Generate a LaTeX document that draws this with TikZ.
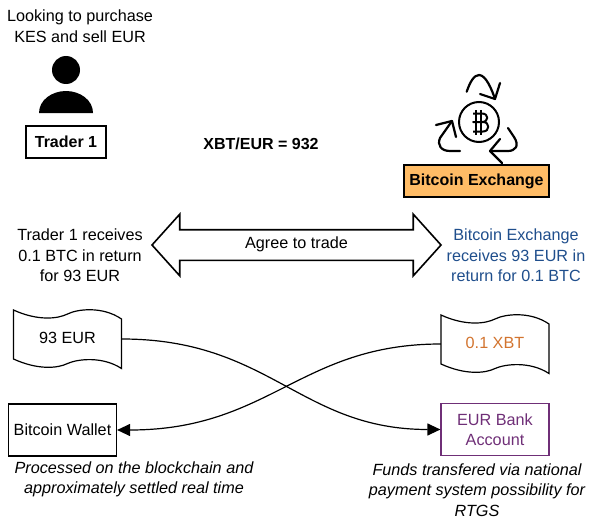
\documentclass[tikz,border=0pt]{standalone}
\usepackage{fontspec}
\setmainfont{Liberation Sans}
\usepackage{xcolor}
\usetikzlibrary{arrows.meta, shapes.arrows}
\definecolor{exchangeblue}{HTML}{1F4E8C}
\definecolor{xbtorange}{HTML}{D2742F}
\definecolor{bankpurple}{HTML}{6F2F77}
\definecolor{exchangefill}{HTML}{FFBC66}
\tikzset{%
	every label text/.style={
		font=\fontsize{16.2}{20.5}\selectfont,
		align=center,
		inner sep=0pt
	},
	remark/.style={
		every label text,
		font=\fontsize{16.2}{20.5}\selectfont\itshape
	},
	title box/.style={
		draw,
		line width=1.6pt,
		font=\fontsize{16}{20.5}\selectfont\bfseries,
		align=center,
		inner sep=0pt
	},
	plain box/.style={
		draw,
		line width=1.2pt,
		font=\fontsize{16.2}{20.5}\selectfont,
		align=center,
		inner sep=0pt,
		minimum width=108pt,
		minimum height=52pt
	},
	note/.style={
		font=\fontsize{16.2}{20.5}\selectfont,
		inner sep=0pt,
		minimum width=108pt,
		minimum height=49pt
	},
	flow/.style={
		line width=1.2pt,
		-{Triangle[length=13pt,width=12pt]}
	},
	recycle/.style={
		line width=2.2pt,
		line cap=round,
		line join=round
	},
}
\newcommand{\notewave}[1]{%
	\draw[line width=1.2pt, shift={(#1.center)}]
		(-54,-29) .. controls (-30,-18) and (-10,-20) .. (0,-25)
		.. controls (10,-30) and (35,-33) .. (54,-20) -- (54,29.5)
		.. controls (35,17) and (10,20) .. (0,24.5)
		.. controls (-10,29.5) and (-30,31) .. (-54,20) -- cycle;
}

\begin{document}
\begin{tikzpicture}[x=1pt, y=-1pt]
	\useasboundingbox (0,0) rectangle (589,519);

	\node[every label text] (lookingtext) at (80,26) {Looking to purchase\\KES and sell EUR};
	\fill (66,70) circle (14);
	\fill (39,113) .. controls (39,100) and (52,91) .. (66,91)
		.. controls (80,91) and (93,100) .. (93,113) -- cycle;
	\node[title box, minimum width=80pt, minimum height=32pt] (trader) at (66,142) {Trader 1};

	\node[every label text, font=\fontsize{16}{20.5}\selectfont\bfseries] (ratetext) at (261,144) {XBT/EUR = 932};

	\draw[line width=2pt] (479,122) circle (20);
	\draw[line width=2pt] (475.5,110) -- (475.5,135);
	\draw[line width=2pt] (480.5,110) -- (480.5,135);
	\draw[line width=2pt, line join=round] (473,113.5) -- (482,113.5)
		.. controls (489,113.5) and (489,122) .. (482,122) -- (473,122) -- (483,122)
		.. controls (490,122) and (490,131.5) .. (483,131.5) -- (473,131.5);
	\draw[recycle] (466.7,91.7) .. controls (470,82) and (474,75) .. (479,75)
		.. controls (486,75) and (492,90) .. (495,99);
	\draw[recycle] (500,83) -- (495,99) -- (480,94);
	\draw[recycle] (460,151) -- (450,151) .. controls (441,151) and (437,145) .. (440,138)
		-- (452,121);
	\draw[recycle] (436,125) -- (452,121) -- (456,137);
	\draw[recycle] (508,128) -- (514,137) .. controls (520,146) and (515,151) .. (508,151)
		-- (490,151);
	\draw[recycle] (500,139) -- (490,151) -- (502,163);
	\node[title box, fill=exchangefill, minimum width=145pt, minimum height=32pt] (exchange) at (476.5,181) {Bitcoin Exchange};

	\node[every label text] (traderterms) at (80,255.5) {Trader 1 receives\\0.1 BTC in return\\for 93 EUR};
	\node[every label text, text=exchangeblue] (exchangeterms) at (516,255.5) {Bitcoin Exchange\\receives 93 EUR in\\return for 0.1 BTC};
	\node[draw, line width=1.6pt, double arrow, font=\fontsize{16.2}{20.5}\selectfont,
		inner xsep=0pt, inner ysep=7pt, text height=12pt, text depth=3pt,
		minimum height=289pt, minimum width=60pt,
		double arrow head extend=15.5pt, double arrow tip angle=96] (agree) at (296.5,245) {\raisebox{1pt}{Agree to trade}};

	\node[note] (eurnote) at (67.5,339) {\raisebox{2pt}{93 EUR}};
	\notewave{eurnote}
	\node[note, text=xbtorange] (xbtnote) at (495,344) {\raisebox{2pt}{0.1 XBT}};
	\notewave{xbtnote}

	\node[plain box] (wallet) at (62.5,430) {Bitcoin Wallet};
	\node[plain box, draw=bankpurple, text=bankpurple] (bank) at (495,429.5) {EUR Bank\\Account};

	\draw[flow] (eurnote.east) .. controls (270,339) and (300,429.5) .. (bank.west);
	\draw[flow] (xbtnote.west) .. controls (300,344) and (270,430) .. (wallet.east);

	\node[remark] (walletremark) at (134,479.5) {Processed on the blockchain and\\approximately settled real time};
	\node[remark] (bankremark) at (477,490) {Funds transfered via national\\payment system possibility for\\RTGS};
\end{tikzpicture}
\end{document}
